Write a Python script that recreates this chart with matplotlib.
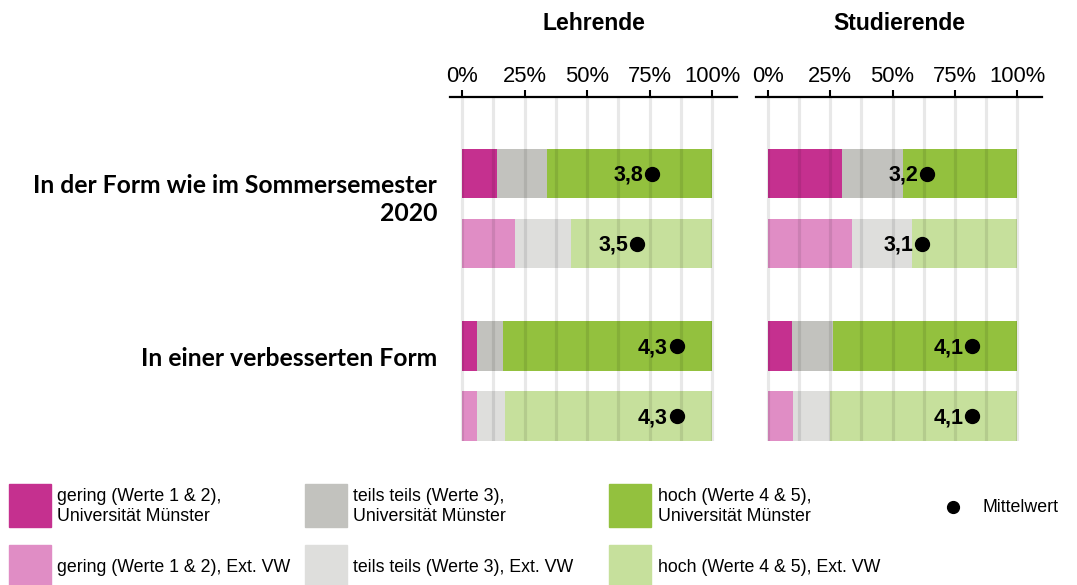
import matplotlib.pyplot as plt
from matplotlib.patches import Rectangle
from matplotlib.lines import Line2D

W, H = 1077, 585

panels = ["Lehrende", "Studierende"]
groups = ["In der Form wie im Sommersemester\n2020", "In einer verbesserten Form"]

# shares in %, rows: SoSe Münster, SoSe Ext. VW, verbessert Münster, verbessert Ext. VW
gering = {"Lehrende": [14.1, 21.1, 6.0, 5.9],
          "Studierende": [29.6, 33.6, 9.7, 10.0]}
teils = {"Lehrende": [20.0, 22.5, 10.5, 11.3],
         "Studierende": [24.5, 24.4, 16.3, 14.8]}
hoch = {"Lehrende": [65.9, 56.4, 83.5, 82.8],
        "Studierende": [45.9, 42.0, 74.0, 75.2]}
mittelwert = {"Lehrende": [3.8, 3.5, 4.3, 4.3],
              "Studierende": [3.2, 3.1, 4.1, 4.1]}

ticks = [0, 25, 50, 75, 100]
tick_labels = ["0%", "25%", "50%", "75%", "100%"]

legend_labels = [
    ["gering (Werte 1 & 2),\nUniversität Münster", "teils teils (Werte 3),\nUniversität Münster",
     "hoch (Werte 4 & 5),\nUniversität Münster"],
    ["gering (Werte 1 & 2), Ext. VW", "teils teils (Werte 3), Ext. VW",
     "hoch (Werte 4 & 5), Ext. VW"],
]

col_uni = ["#C5308F", "#C2C2BE", "#93C13E"]
col_ext = ["#E08DC5", "#DEDEDC", "#C6E09C"]

# layout
ypos = [0, 1, 2.464, 3.464]
bar_h = 0.707
xlo, xhi = -4.8, 110

plt.rcParams['font.family'] = ['Liberation Sans', 'DejaVu Sans']

fig = plt.figure(figsize=(W / 100, H / 100), dpi=100)
axes_px = [(450, 737), (756, 1042)]
top_px, bot_px = 97, 441

for p, (x0, x1) in zip(panels, axes_px):
    ax = fig.add_axes([x0 / W, 1 - bot_px / H, (x1 - x0) / W, (bot_px - top_px) / H])
    ax.set_xlim(xlo, xhi)
    ax.set_ylim(3.818, -1.093)

    for i, y in enumerate(ypos):
        cols = col_uni if i % 2 == 0 else col_ext
        left = 0
        for val, c in zip([gering[p][i], teils[p][i], hoch[p][i]], cols):
            ax.barh(y, val, left=left, height=bar_h, color=c, zorder=1)
            left += val

    for g in [12.5 * k for k in range(9)]:
        ax.plot([g, g], [-1.093, 3.818], color="black", alpha=0.09, lw=2.3, zorder=2,
                solid_capstyle="butt")

    # mean on 1..5 scale, shown on a twin axis
    ax2 = ax.twiny()
    ax2.set_xlim(xlo / 20, xhi / 20)
    ax2.set_axis_off()
    ax2.plot(mittelwert[p], ypos, "o", ms=10, color="black", zorder=5)
    for m, y in zip(mittelwert[p], ypos):
        ax2.annotate(f"{m:.1f}".replace(".", ","), (m, y), xytext=(-6.5, -1),
                     textcoords="offset points", ha="right", va="center",
                     fontsize=15.5, fontweight="bold", zorder=5)

    for s in ["left", "right", "bottom"]:
        ax.spines[s].set_visible(False)
    ax.spines["top"].set_linewidth(1.6)
    ax.xaxis.tick_top()
    ax.set_xticks(ticks)
    ax.set_xticklabels(tick_labels, fontsize=15.8)
    ax.tick_params(axis="x", top=True, bottom=False, labeltop=True, labelbottom=False,
                   length=5, width=1.5, pad=2)
    ax.set_yticks([])
    ax.set_title(p, fontsize=16.5, fontweight="bold", pad=48)

    if p == panels[0]:
        for g, y in zip(groups, [ypos[0], ypos[2]]):
            ax.text(-0.045, y + 0.01, g, transform=ax.get_yaxis_transform(),
                    ha="right", va="top", fontsize=17.8, fontweight="bold",
                    family=["Lato", "DejaVu Sans"], linespacing=1.25)

# legend
col_px = [(9, 57), (305, 353), (609, 658)]
row_px = [(484, 43), (545, 42)]
for r, (ry, rh) in enumerate(row_px):
    for c, (px, tx) in enumerate(col_px):
        colr = col_uni[c] if r == 0 else col_ext[c]
        fig.add_artist(Rectangle((px / W, 1 - (ry + rh) / H), 42 / W, rh / H,
                                 transform=fig.transFigure, color=colr))
        fig.text(tx / W, 1 - (ry + rh / 2 + 1) / H, legend_labels[r][c], ha="left",
                 va="center", fontsize=12.8, linespacing=1.25)

fig.add_artist(Line2D([953 / W], [1 - 507 / H], marker="o", ms=8.5, color="black",
                      transform=fig.transFigure))
fig.text(982 / W, 1 - 507 / H, "Mittelwert", ha="left", va="center", fontsize=12.8)

fig.savefig("out.png", dpi=100)
